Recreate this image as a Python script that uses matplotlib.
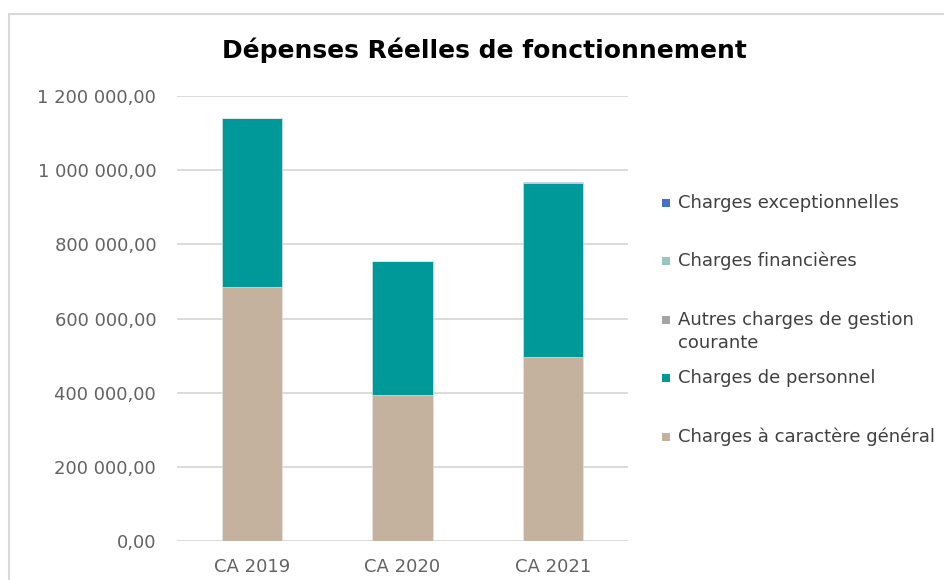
import matplotlib.pyplot as plt
from matplotlib.patches import Rectangle
from matplotlib.ticker import FuncFormatter

# données
annees = ["CA 2019", "CA 2020", "CA 2021"]
charges_generales = [686000, 393000, 495000]
charges_personnel = [456000, 362000, 471000]
autres_charges = [0, 0, 0]
charges_financieres = [0, 0, 0]
charges_exceptionnelles = [0, 0, 2000]

series = [
    ("Charges à caractère général", charges_generales, "#C4B29E"),
    ("Charges de personnel", charges_personnel, "#009999"),
    ("Autres charges de gestion\ncourante", autres_charges, "#A5A5A5"),
    ("Charges financières", charges_financieres, "#98C6BE"),
    ("Charges exceptionnelles", charges_exceptionnelles, "#4472C4"),
]

W, H = 945, 580
fig = plt.figure(figsize=(W / 100, H / 100), dpi=100)

# cadre gris clair du graphique
fig.add_artist(Rectangle((9 / W, -0.05), 1.1, 1 - 14 / H + 0.05, transform=fig.transFigure,
                         facecolor="none", edgecolor="#D9D9D9", linewidth=1.5))

ax = fig.add_axes([177 / W, 39 / H, 451 / W, 445 / H])

# barres empilées
bas = [0, 0, 0]
for nom, valeurs, couleur in series:
    ax.bar(annees, valeurs, bottom=bas, width=0.4, color=couleur,
           edgecolor="#E8E8E8", linewidth=0.4, zorder=3)
    bas = [b + v for b, v in zip(bas, valeurs)]

ax.set_xlim(-0.5, 2.5)
ax.set_ylim(0, 1200000)
ax.set_yticks(range(0, 1200001, 200000))


def format_fr(v, pos):
    txt = f"{v:,.2f}".replace(",", " ").replace(".", ",")
    return txt


ax.yaxis.set_major_formatter(FuncFormatter(format_fr))
ax.grid(axis="y", color="#D9D9D9", linewidth=1.3, zorder=0)
for s in ax.spines.values():
    s.set_visible(False)
ax.tick_params(axis="both", length=0, colors="#636363", labelsize=13)
ax.tick_params(axis="y", pad=15)
ax.tick_params(axis="x", pad=12)

# titre
fig.text(484 / W, 1 - 50 / H, "Dépenses Réelles de fonctionnement", ha="center", va="center",
         fontsize=18, fontweight="bold", color="black")

# légende manuelle (ordre inversé, comme Excel)
legende = [
    ("Charges exceptionnelles", "#4472C4", 203),
    ("Charges financières", "#98C6BE", 261),
    ("Autres charges de gestion", "#A5A5A5", 320),
    ("courante", None, 343),
    ("Charges de personnel", "#009999", 378),
    ("Charges à caractère général", "#C4B29E", 437),
]
for texte, couleur, ypix in legende:
    y = 1 - ypix / H
    if couleur:
        fig.add_artist(Rectangle((662 / W, y - 4 / H), 8 / W, 8 / H, transform=fig.transFigure,
                                 facecolor=couleur, edgecolor="none"))
    fig.text(678 / W, y, texte, ha="left", va="center", fontsize=13, color="#404040")

fig.savefig("out.png", dpi=100)
